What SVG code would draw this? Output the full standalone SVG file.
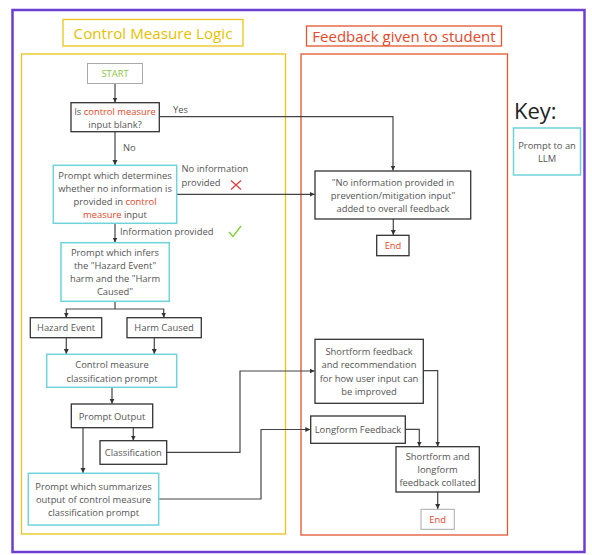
<svg xmlns="http://www.w3.org/2000/svg" width="592" height="555" viewBox="0 0 592 555">
<defs>
<marker id="ah" markerWidth="6" markerHeight="6" refX="5" refY="3" orient="auto" markerUnits="userSpaceOnUse">
<path d="M0,0.5 L5,3 L0,5.5 Z" fill="#333"/>
</marker>
<style>
text{font-family:"Open Sans","Liberation Sans",sans-serif;font-size:9.4px;fill:#555;text-anchor:middle}
.hl{fill:#e2492b}
.box{fill:#fff;stroke:#333;stroke-width:1.3}
.llm{fill:#fff;stroke:#6fd3db;stroke-width:1.5}
.lite{fill:#fff;stroke:#aaa;stroke-width:1}
.con{fill:none;stroke:#444;stroke-width:1.2;marker-end:url(#ah)}
.line{fill:none;stroke:#444;stroke-width:1.2}
.lbl{text-anchor:start}
</style>
</defs>
<rect width="592" height="555" fill="#fff"/>
<rect x="12.5" y="10" width="572" height="542" fill="none" stroke="#6b3fd0" stroke-width="2.5"/>

<g id="logic-title">
<rect x="63" y="19.5" width="180" height="26.5" fill="none" stroke="#ecc41a" stroke-width="1.3"/>
<text x="153" y="39" style="font-size:15.2px;fill:#e6bf00">Control Measure Logic</text>
</g>
<g id="logic-container"><rect x="21.5" y="54" width="264" height="480" fill="none" stroke="#ecc41a" stroke-width="1.3"/></g>

<g id="feedback-title">
<rect x="306.5" y="26" width="195" height="20" fill="none" stroke="#e2572f" stroke-width="1.3"/>
<text x="404" y="42" style="font-size:15px;fill:#e2492b">Feedback given to student</text>
</g>
<g id="feedback-container"><rect x="301" y="54" width="206.5" height="481" fill="none" stroke="#e2572f" stroke-width="1.3"/></g>

<g id="key">
<text x="514" y="119" class="lbl" style="font-size:22px;fill:#222">Key:</text>
<rect x="513.5" y="128" width="67" height="47" class="llm"/>
<text x="547" y="149">Prompt to an</text>
<text x="547" y="162">LLM</text>
</g>

<g id="connectors">
<line x1="115" y1="83.5" x2="115" y2="102.5" class="con"/>
<polyline points="159.3,116.7 393,116.7 393,170.5" class="con"/>
<line x1="115" y1="131.7" x2="115" y2="165" class="con"/>
<line x1="176.7" y1="194.3" x2="314.5" y2="194.3" class="con"/>
<line x1="393.3" y1="219" x2="393.3" y2="235" class="con"/>
<line x1="115" y1="223.3" x2="115" y2="242.5" class="con"/>
<polyline points="115,301.3 115,309" class="line"/>
<polyline points="66.3,317.5 66.3,309 163.7,309 163.7,317.5" class="line"/>
<line x1="66.3" y1="313" x2="66.3" y2="317.5" class="con"/>
<line x1="163.7" y1="313" x2="163.7" y2="317.5" class="con"/>
<line x1="66.3" y1="337.7" x2="66.3" y2="354" class="con"/>
<line x1="154.3" y1="337.7" x2="154.3" y2="354" class="con"/>
<line x1="112" y1="387.3" x2="112" y2="403.8" class="con"/>
<line x1="133.3" y1="427.7" x2="133.3" y2="440.5" class="con"/>
<line x1="83" y1="427.7" x2="83" y2="473" class="con"/>
<polyline points="166.7,452.3 240,452.3 240,371 314.5,371" class="con"/>
<polyline points="158.7,499 261,499 261,429.5 310.3,429.5" class="con"/>
<polyline points="423.3,370.7 437.7,370.7 437.7,446.5" class="con"/>
<polyline points="405.3,429.3 419.3,429.3 419.3,446.5" class="con"/>
<line x1="437.7" y1="492" x2="437.7" y2="509" class="con"/>
</g>

<g id="connector-labels">
<text x="173" y="113" class="lbl">Yes</text>
<text x="123" y="151" class="lbl">No</text>
<text x="181.5" y="172" class="lbl">No information</text>
<text x="181.5" y="186" class="lbl">provided</text>
<path d="M231,180.5 L241,189.5 M241,180.5 L231,189.5" stroke="#e23a3a" stroke-width="1.2" fill="none"/>
<text x="120" y="234.5" class="lbl">Information provided</text>
<path d="M229,232 L233,236.5 L241,226" stroke="#7ccf2f" stroke-width="1.3" fill="none"/>
</g>

<g id="start">
<rect x="87.5" y="63.5" width="55" height="20" class="lite"/>
<text x="115" y="77" style="fill:#8cc63f">START</text>
</g>

<g id="blank-check">
<rect x="71" y="102.7" width="88.3" height="29" class="box"/>
<text x="115" y="114.5">Is <tspan class="hl">control measure</tspan></text>
<text x="115" y="127.5">input blank?</text>
</g>

<g id="determine-prompt">
<rect x="53.3" y="165.3" width="123.4" height="58" class="llm"/>
<text x="115" y="178.5">Prompt which determines</text>
<text x="115" y="191.5">whether no information is</text>
<text x="115" y="204.5">provided in <tspan class="hl">control</tspan></text>
<text x="115" y="217.5"><tspan class="hl">measure</tspan> input</text>
</g>

<g id="no-info-feedback">
<rect x="315" y="171" width="155.7" height="48" class="box"/>
<text x="393" y="185.5">"No information provided in</text>
<text x="393" y="198.5">prevention/mitigation input"</text>
<text x="393" y="211.5">added to overall feedback</text>
</g>

<g id="end-1">
<rect x="376.7" y="235.3" width="32.3" height="20.4" class="box"/>
<text x="393" y="249" class="hl">End</text>
</g>

<g id="infer-prompt">
<rect x="61" y="242.7" width="108.3" height="58.6" class="llm"/>
<text x="115" y="255.5">Prompt which infers</text>
<text x="115" y="268.8">the "Hazard Event"</text>
<text x="115" y="282">harm and the "Harm</text>
<text x="115" y="295.2">Caused"</text>
</g>

<g id="hazard-event">
<rect x="30.3" y="317.7" width="71.4" height="20" class="box"/>
<text x="66" y="331.3">Hazard Event</text>
</g>

<g id="harm-caused">
<rect x="127" y="317.7" width="74.3" height="20" class="box"/>
<text x="164" y="331.3">Harm Caused</text>
</g>

<g id="classification-prompt">
<rect x="46.7" y="354.3" width="130" height="33" class="llm"/>
<text x="112" y="368.3">Control measure</text>
<text x="112" y="381.5">classification prompt</text>
</g>

<g id="prompt-output">
<rect x="71.3" y="404" width="81.4" height="23.7" class="box"/>
<text x="112" y="419.8">Prompt Output</text>
</g>

<g id="classification">
<rect x="100" y="440.7" width="66.7" height="23.6" class="box"/>
<text x="133.3" y="455.8">Classification</text>
</g>

<g id="summarize-prompt">
<rect x="28.3" y="473.3" width="130.4" height="51.7" class="llm"/>
<text x="93.5" y="490">Prompt which summarizes</text>
<text x="93.5" y="503">output of control measure</text>
<text x="93.5" y="516">classification prompt</text>
</g>

<g id="shortform">
<rect x="315" y="339.3" width="108.3" height="64" class="box"/>
<text x="369" y="355">Shortform feedback</text>
<text x="369" y="368.3">and recommendation</text>
<text x="369" y="381.6">for how user input can</text>
<text x="369" y="395">be improved</text>
</g>

<g id="longform">
<rect x="310.7" y="416" width="94.6" height="27.3" class="box"/>
<text x="358" y="432.8">Longform Feedback</text>
</g>

<g id="collated">
<rect x="396" y="446.7" width="83.3" height="45.3" class="box"/>
<text x="437.7" y="459.5">Shortform and</text>
<text x="437.7" y="472.5">longform</text>
<text x="437.7" y="485.5">feedback collated</text>
</g>

<g id="end-2">
<rect x="421" y="509.3" width="33.3" height="20" class="lite"/>
<text x="437.7" y="523" class="hl">End</text>
</g>
</svg>
